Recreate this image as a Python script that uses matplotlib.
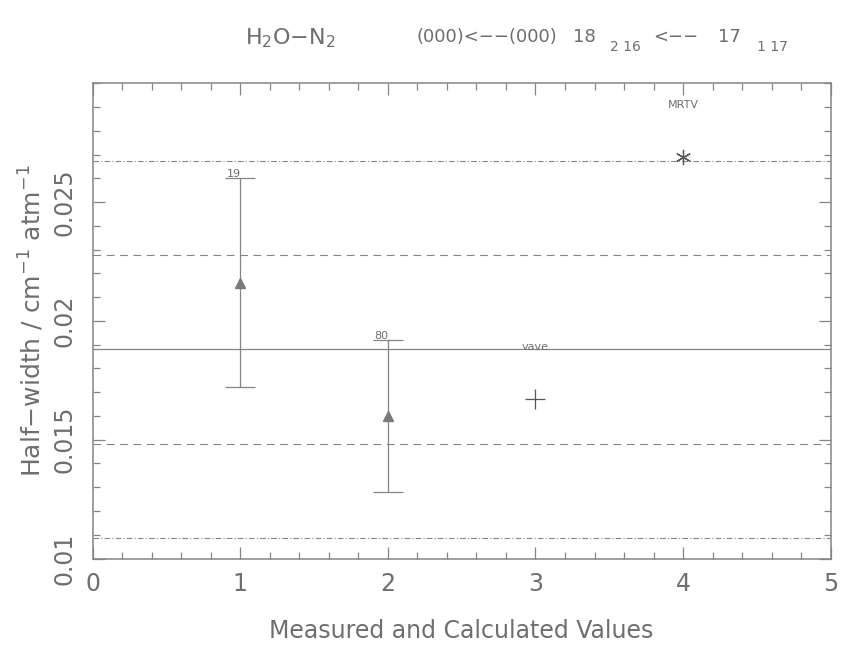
"""
Half-width comparison plot: measured vs calculated values for one H2O-N2 line.
"""
import matplotlib
matplotlib.use("Agg")
import matplotlib.pyplot as plt
from matplotlib.ticker import MultipleLocator

# measured values (with uncertainty)
meas_x = [1, 2]
meas_hw = [0.0216, 0.0160]
meas_err = [0.0044, 0.0032]
meas_labels = ["19", "80"]

# calculated values
calc_x = [3, 4]
calc_hw = [0.0167, 0.0269]
calc_labels = ["vave", "MRTV"]

# average and standard deviation lines
hw_mean = 0.0188
hw_sd = 0.00396

GRAY = "#858585"
TXT = "#6e6e6e"
W, H = 841, 645

fig = plt.figure(figsize=(W / 100, H / 100), dpi=100)
ax = fig.add_axes([0.1102, 0.1341, 0.8775, 0.7367])

ax.axhline(hw_mean, color=GRAY, lw=0.9)
for k, dash in [(1, (7, 5)), (2, (5, 2, 1, 2))]:
    ax.axhline(hw_mean + k * hw_sd, color=GRAY, lw=0.8, dashes=dash)
    ax.axhline(hw_mean - k * hw_sd, color=GRAY, lw=0.8, dashes=dash)

ax.errorbar(meas_x, meas_hw, yerr=meas_err, fmt="^", color=GRAY, mfc="#7a7a7a",
            mec="#7a7a7a", ms=7, elinewidth=0.9, capsize=10.8, capthick=0.9)
ax.plot([calc_x[0]], [calc_hw[0]], linestyle="none", marker="+", color="#555555",
        ms=14, mew=0.9)
ax.plot([calc_x[1]], [calc_hw[1]], linestyle="none", marker=(6, 2, 0),
        color="#555555", ms=11, mew=0.9)

# labels next to points
for x, y, e, lab in zip(meas_x, meas_hw, meas_err, meas_labels):
    ax.annotate(lab, (x, y + e), xytext=(-4.5, 1), textcoords="offset points",
                ha="center", va="baseline", fontsize=8, color=TXT)
for x, y, lab in zip(calc_x, calc_hw, calc_labels):
    ax.annotate(lab, (x, y), xytext=(0, 37.5), textcoords="offset points",
                ha="center", va="center", fontsize=8, color=TXT)

ax.set_xlim(0, 5)
ax.set_ylim(0.01, 0.030)
ax.set_xticks([0, 1, 2, 3, 4, 5])
ax.set_yticks([0.01, 0.015, 0.02, 0.025])
ax.set_yticklabels(["0.01", "0.015", "0.02", "0.025"], rotation=90, va="center")
ax.xaxis.set_minor_locator(MultipleLocator(0.2))
ax.yaxis.set_minor_locator(MultipleLocator(0.001))
ax.tick_params(which="both", direction="in", top=True, right=True, color=GRAY,
               width=0.9, labelcolor=TXT, labelsize=17)
ax.tick_params(which="major", length=8.6)
ax.tick_params(which="minor", length=5)
ax.tick_params(axis="x", pad=10)
ax.tick_params(axis="y", pad=12)
for sp in ax.spines.values():
    sp.set_color(GRAY)
    sp.set_linewidth(1.1)

ax.set_xlabel("Measured and Calculated Values", fontsize=17, color=TXT, labelpad=16)
ax.set_ylabel(r"Half$-$width / cm$^{-1}$ atm$^{-1}$", fontsize=18, color=TXT, labelpad=4)

# header: molecule pair and transition, pieces placed at pixel positions
fig.text(245 / W, 1 - 38 / H, r"H$_2$O$-$N$_2$", fontsize=16, color=TXT,
         ha="left", va="center")
header = [("(000)<\u2212\u2212(000)", 417, 37, 13), ("18", 573, 37, 13),
          ("2 16", 610, 47, 10), ("<\u2212\u2212", 653, 37, 13),
          ("17", 718, 37, 13), ("1 17", 757, 47, 10)]
for txt, px, py, fs in header:
    fig.text(px / W, 1 - py / H, txt, fontsize=fs, color=TXT, ha="left", va="center")

fig.savefig("out.png", dpi=100)
